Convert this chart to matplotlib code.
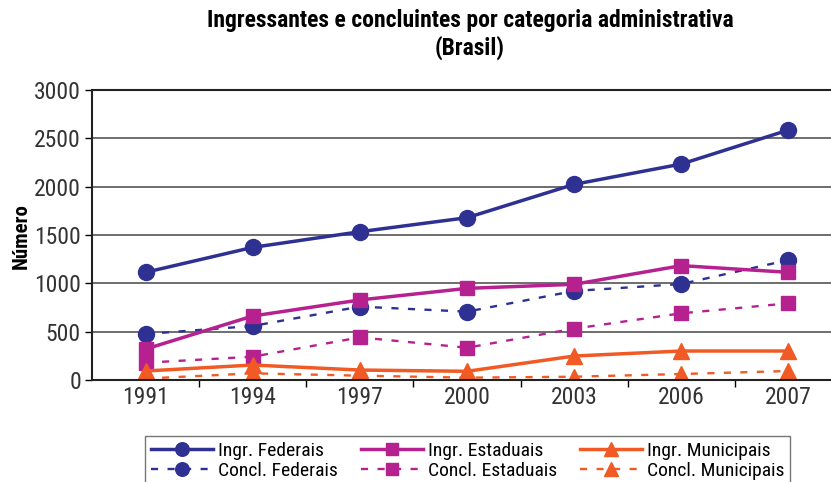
import matplotlib
matplotlib.use("Agg")
import matplotlib.pyplot as plt
from matplotlib import font_manager

years = ["1991", "1994", "1997", "2000", "2003", "2006", "2007"]
ingr_federais = [1114, 1372, 1534, 1679, 2024, 2234, 2586]
concl_federais = [476, 559, 759, 707, 921, 993, 1241]
ingr_estaduais = [320, 662, 828, 948, 990, 1183, 1114]
concl_estaduais = [179, 241, 441, 334, 531, 690, 793]
ingr_municipais = [93, 155, 103, 90, 248, 300, 300]
concl_municipais = [15, 69, 45, 24, 34, 62, 93]
yticks = [0, 500, 1000, 1500, 2000, 2500, 3000]

BLUE = "#2E3192"
MAGENTA = "#B5218F"
ORANGE = "#F15A24"

available = {f.name for f in font_manager.fontManager.ttflist}


def pick(cands):
    for c in cands:
        if c in available:
            return c
    return "DejaVu Sans"


REG = pick(["Liberation Sans Narrow", "Roboto Condensed", "Archivo Narrow", "Barlow Condensed"])
BOLD = pick(["Liberation Sans Narrow", "Roboto Condensed", "Asap Condensed", "Barlow Condensed"])
plt.rcParams["font.family"] = [REG, "DejaVu Sans"]

fig = plt.figure(figsize=(8.31, 4.82), dpi=100)
ax = fig.add_axes([92/831, 1-380/482, 750/831, 290/482])

x = list(range(len(years)))
solid = dict(linewidth=2.5)
dash = dict(linewidth=1.7, linestyle=(0, (3, 4)))

ax.plot(x, ingr_federais, color=BLUE, marker="o", markersize=11.5, label="Ingr. Federais", **solid)
ax.plot(x, concl_federais, color=BLUE, marker="o", markersize=11.5, label="Concl. Federais", **dash)
ax.plot(x, ingr_estaduais, color=MAGENTA, marker="s", markersize=10.5, label="Ingr. Estaduais", **solid)
ax.plot(x, concl_estaduais, color=MAGENTA, marker="s", markersize=10.5, label="Concl. Estaduais", **dash)
ax.plot(x, ingr_municipais, color=ORANGE, marker="^", markersize=11.5, label="Ingr. Municipais", **solid)
ax.plot(x, concl_municipais, color=ORANGE, marker="^", markersize=11.5, label="Concl. Municipais", **dash)

ax.set_xlim(-0.5, len(years) - 0.5)
ax.set_ylim(0, 3000)
ax.set_yticks(yticks)
ax.set_yticklabels([str(v) for v in yticks], fontsize=17, color="#333333")
ax.set_xticks(x)
ax.set_xticklabels(years, fontsize=17, color="#333333")
ax.set_xticks([i + 0.5 for i in range(len(years) - 1)], minor=True)
ax.tick_params(axis="x", which="major", length=0, pad=4)
ax.tick_params(axis="x", which="minor", length=5, width=1, direction="out")
ax.tick_params(axis="y", length=5, width=1, direction="out", pad=3)
ax.yaxis.grid(True, color="#555555", linewidth=1.2)
ax.set_axisbelow(True)
for s in ["left", "bottom", "top"]:
    ax.spines[s].set_linewidth(1.5)
    ax.spines[s].set_color("#222222")
ax.spines["right"].set_visible(False)

fig.text(21/831, 1-236/482, "Número", rotation=90, ha="center", va="center",
         fontsize=15, fontweight="bold", family=[BOLD, "DejaVu Sans"])

fig.text(470/831, 1-21/482, "Ingressantes e concluintes por categoria administrativa",
         ha="center", va="center", fontsize=17, fontweight="bold", family=[BOLD, "DejaVu Sans"])
fig.text(470/831, 1-48/482, "(Brasil)", ha="center", va="center", fontsize=17,
         fontweight="bold", family=[BOLD, "DejaVu Sans"])

handles, labels = ax.get_legend_handles_labels()
leg = fig.legend(handles, labels, loc="upper left", ncol=3,
                 bbox_to_anchor=(135/831, 1-426/482, 665/831, 0),
                 mode="expand", fontsize=14, frameon=True, fancybox=False,
                 edgecolor="#555555", handlelength=3.2, handletextpad=0.25,
                 borderpad=0.3, labelspacing=0.1, columnspacing=0.8,
                 markerscale=0.85)
leg.get_frame().set_linewidth(1.0)

fig.savefig("out.png", dpi=100)
